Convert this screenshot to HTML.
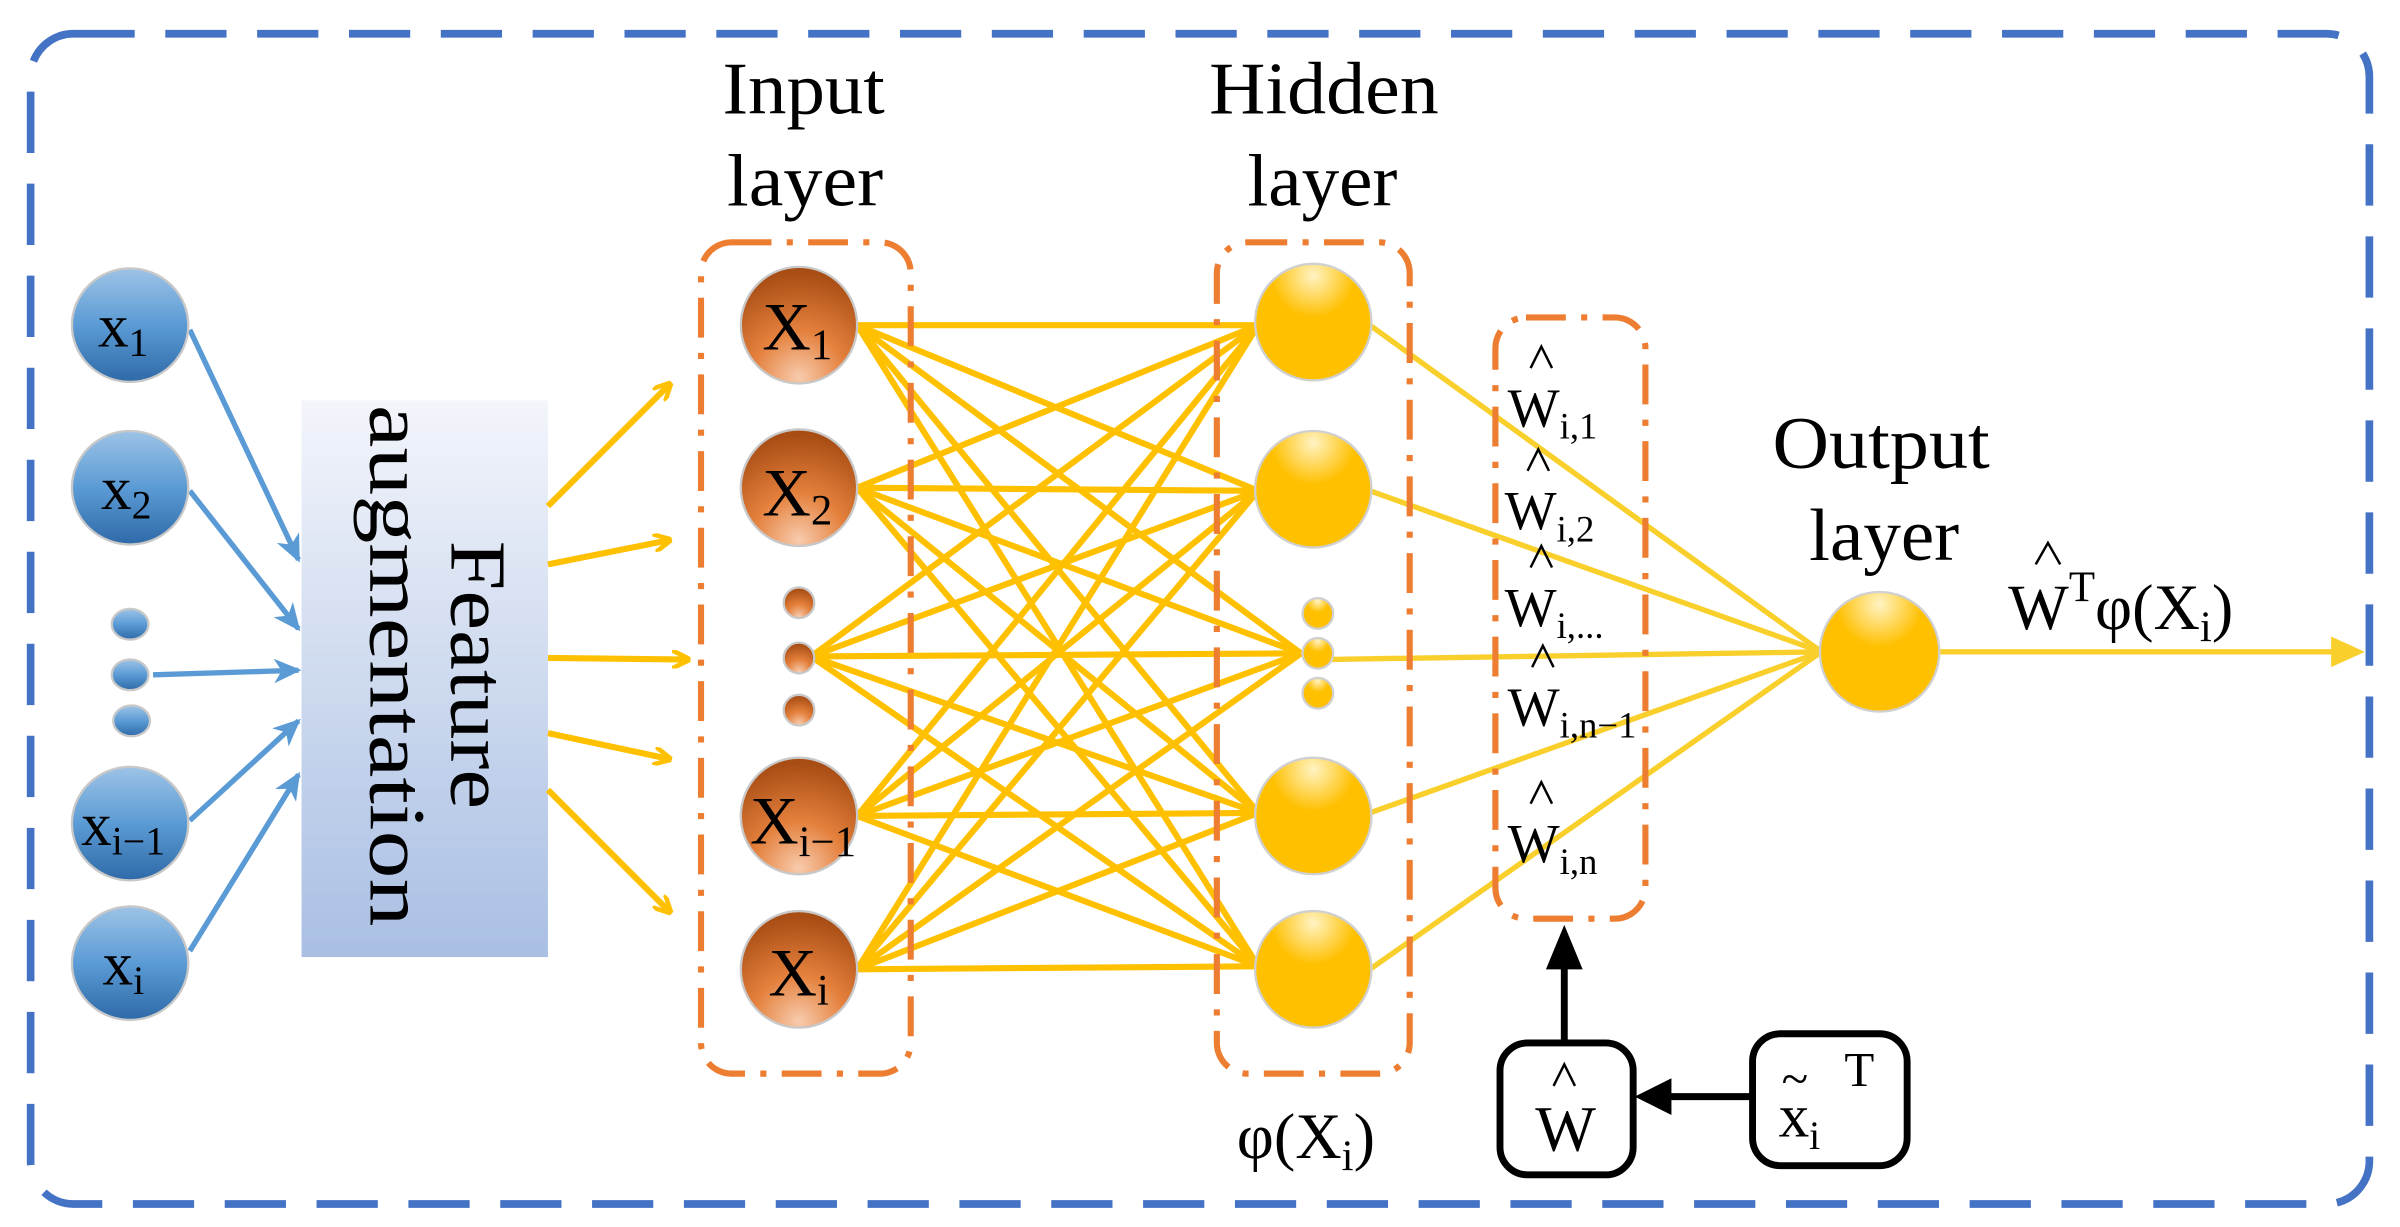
<!DOCTYPE html>
<html><head><meta charset="utf-8"><style>
html,body{margin:0;padding:0;background:#fff;}
svg{display:block;font-family:"Liberation Serif","DejaVu Serif",serif;}
svg text{font-family:"Liberation Serif","DejaVu Serif",serif;fill:#000;}
</style></head><body>
<svg width="2400" height="1227" viewBox="0 0 1568 800" preserveAspectRatio="none" xmlns="http://www.w3.org/2000/svg">
<defs>
<linearGradient id="gb" x1="0" y1="0" x2="0" y2="1"><stop offset="0" stop-color="#9dc3e6"/><stop offset="0.5" stop-color="#5b9bd5"/><stop offset="1" stop-color="#2e6aa8"/></linearGradient>
<radialGradient id="go" cx="0.5" cy="0.95" r="0.9"><stop offset="0" stop-color="#f8cbad"/><stop offset="0.45" stop-color="#e4803c"/><stop offset="1" stop-color="#a84d14"/></radialGradient>
<radialGradient id="gy" cx="0.5" cy="0.1" r="0.6"><stop offset="0" stop-color="#fff3c4"/><stop offset="0.6" stop-color="#ffc000"/><stop offset="1" stop-color="#ffc000"/></radialGradient>
<linearGradient id="gf" x1="0" y1="0" x2="0" y2="1"><stop offset="0" stop-color="#f3f5fb"/><stop offset="1" stop-color="#a9bfe3"/></linearGradient>
<marker id="ab" markerWidth="18" markerHeight="16" refX="16" refY="8" orient="auto" markerUnits="userSpaceOnUse" viewBox="0 0 18 16"><path d="M0,0 L18,8 L0,16 L5,8 Z" fill="#5b9bd5"/></marker>
<marker id="ay" markerWidth="12" markerHeight="12" refX="11" refY="6" orient="auto" markerUnits="userSpaceOnUse" viewBox="0 0 12 12"><path d="M0,0 L12,6 L0,12" fill="none" stroke="#ffc000" stroke-width="3"/></marker>
</defs>
<rect x="20" y="22" width="1528" height="763" rx="28" fill="none" stroke="#4472c4" stroke-width="5" stroke-dasharray="40 20"/>

<g stroke="#5b9bd5" stroke-width="3.5" fill="none">
<line x1="124" y1="215" x2="195" y2="365" marker-end="url(#ab)"/>
<line x1="124" y1="320" x2="195" y2="410" marker-end="url(#ab)"/>
<line x1="100" y1="440" x2="195" y2="437" marker-end="url(#ab)"/>
<line x1="124" y1="535" x2="195" y2="470" marker-end="url(#ab)"/>
<line x1="124" y1="620" x2="195" y2="505" marker-end="url(#ab)"/>
</g>

<g stroke="#c8c8c8" stroke-width="1.5" fill="url(#gb)">
<ellipse cx="85" cy="212" rx="38" ry="37"/>
<ellipse cx="85" cy="318" rx="38" ry="37"/>
<ellipse cx="85" cy="537" rx="38" ry="37"/>
<ellipse cx="85" cy="628" rx="38" ry="37"/>
<ellipse cx="85" cy="407" rx="12" ry="10"/>
<ellipse cx="85" cy="440" rx="12" ry="10"/>
<ellipse cx="86" cy="470" rx="12" ry="10"/>
</g>
<g font-size="40">
<text x="64" y="226">x<tspan font-size="26" dy="6">1</tspan></text>
<text x="66" y="332">x<tspan font-size="26" dy="6">2</tspan></text>
<text x="53" y="551">x<tspan font-size="26" dy="6">i−1</tspan></text>
<text x="67" y="642">x<tspan font-size="26" dy="6">i</tspan></text>
</g>

<rect x="197" y="261" width="161" height="363" fill="url(#gf)"/>
<g transform="translate(277,440) rotate(90)" font-size="52" text-anchor="middle">
<text x="0" y="-18" textLength="175" lengthAdjust="spacingAndGlyphs">Feature</text>
<text x="-6" y="35" textLength="340" lengthAdjust="spacingAndGlyphs">augmentation</text>
</g>

<g stroke="#ffc000" stroke-width="4" fill="none" marker-end="url(#ay)">
<line x1="358" y1="330" x2="438" y2="250"/>
<line x1="358" y1="368" x2="438" y2="352"/>
<line x1="358" y1="429" x2="450" y2="430"/>
<line x1="358" y1="478" x2="438" y2="495"/>
<line x1="358" y1="515" x2="438" y2="595"/>
</g>

<g stroke="#ffc000" stroke-width="4">
<line x1="560" y1="212" x2="822" y2="212"/><line x1="560" y1="212" x2="822" y2="320"/><line x1="560" y1="212" x2="850" y2="426"/><line x1="560" y1="212" x2="822" y2="530"/><line x1="560" y1="212" x2="822" y2="630"/>
<line x1="560" y1="318" x2="822" y2="212"/><line x1="560" y1="318" x2="822" y2="320"/><line x1="560" y1="318" x2="850" y2="426"/><line x1="560" y1="318" x2="822" y2="530"/><line x1="560" y1="318" x2="822" y2="630"/>
<line x1="530" y1="428" x2="822" y2="212"/><line x1="530" y1="428" x2="822" y2="320"/><line x1="530" y1="428" x2="850" y2="426"/><line x1="530" y1="428" x2="822" y2="530"/><line x1="530" y1="428" x2="822" y2="630"/>
<line x1="560" y1="532" x2="822" y2="212"/><line x1="560" y1="532" x2="822" y2="320"/><line x1="560" y1="532" x2="850" y2="426"/><line x1="560" y1="532" x2="822" y2="530"/><line x1="560" y1="532" x2="822" y2="630"/>
<line x1="560" y1="632" x2="822" y2="212"/><line x1="560" y1="632" x2="822" y2="320"/><line x1="560" y1="632" x2="850" y2="426"/><line x1="560" y1="632" x2="822" y2="530"/><line x1="560" y1="632" x2="822" y2="630"/>
</g>
<g stroke="#f9cf2c" stroke-width="3.5">
<line x1="895" y1="212" x2="1190" y2="425"/>
<line x1="895" y1="320" x2="1190" y2="425"/>
<line x1="865" y1="430" x2="1190" y2="425"/>
<line x1="895" y1="530" x2="1190" y2="425"/>
<line x1="895" y1="632" x2="1190" y2="425"/>
<line x1="1266" y1="425" x2="1540" y2="425"/>
</g>
<path d="M1523,415 L1545,425 L1523,435 Z" fill="#f9cf2c"/>

<g fill="none" stroke="#ed7d31" stroke-width="4" stroke-dasharray="26 10 4 10">
<rect x="458" y="158" width="137" height="542" rx="20"/>
<rect x="795" y="158" width="126" height="542" rx="20"/>
<rect x="977" y="207" width="98" height="392" rx="20"/>
</g>

<g stroke="#c8c8c8" stroke-width="1.5" fill="url(#go)">
<circle cx="522" cy="212" r="38"/>
<circle cx="522" cy="318" r="38"/>
<circle cx="522" cy="532" r="38"/>
<circle cx="522" cy="632" r="38"/>
<circle cx="522" cy="393" r="10"/>
<circle cx="522" cy="429" r="10"/>
<circle cx="522" cy="463" r="10"/>
</g>
<g font-size="44">
<text x="498" y="228">X<tspan font-size="28" dy="6">1</tspan></text>
<text x="498" y="336">X<tspan font-size="28" dy="6">2</tspan></text>
<text x="490" y="550">X<tspan font-size="28" dy="8">i−1</tspan></text>
<text x="502" y="649">X<tspan font-size="28" dy="6">i</tspan></text>
</g>

<g stroke="#d0d0d0" stroke-width="1.5" fill="url(#gy)">
<circle cx="858" cy="210" r="38"/>
<circle cx="858" cy="319" r="38"/>
<circle cx="858" cy="532" r="38"/>
<circle cx="858" cy="632" r="38"/>
<circle cx="861" cy="400" r="10"/>
<circle cx="861" cy="426" r="10"/>
<circle cx="861" cy="452" r="10"/>
<circle cx="1228" cy="425" r="39"/>
</g>

<g font-size="48" text-anchor="middle">
<text x="525" y="74" textLength="106" lengthAdjust="spacingAndGlyphs">Input</text>
<text x="526" y="134" textLength="102" lengthAdjust="spacingAndGlyphs">layer</text>
<text x="865" y="74" textLength="150" lengthAdjust="spacingAndGlyphs">Hidden</text>
<text x="864" y="134" textLength="98" lengthAdjust="spacingAndGlyphs">layer</text>
<text x="1229" y="305" textLength="142" lengthAdjust="spacingAndGlyphs">Output</text>
<text x="1231" y="365" textLength="98" lengthAdjust="spacingAndGlyphs">layer</text>
</g>
<g font-size="42">
<text x="808" y="755">φ(X<tspan font-size="28" dy="8">i</tspan><tspan dy="-8">)</tspan></text>
<text x="1312" y="410">W<tspan font-size="28" dy="-18">T</tspan><tspan dy="18">φ(X</tspan><tspan font-size="28" dy="8">i</tspan><tspan dy="-8">)</tspan></text>
</g>
<g font-size="36">
<text x="985" y="278">W<tspan font-size="24" dy="8">i,1</tspan></text>
<text x="983" y="345">W<tspan font-size="24" dy="8">i,2</tspan></text>
<text x="983" y="408">W<tspan font-size="24" dy="8">i,...</tspan></text>
<text x="985" y="473">W<tspan font-size="24" dy="8">i,n−1</tspan></text>
<text x="985" y="562">W<tspan font-size="24" dy="8">i,n</tspan></text>
</g>
<g fill="none" stroke="#000" stroke-width="1.6">
<polyline points="1000,240 1007,226 1014,240"/>
<polyline points="998,307 1005,293 1012,307"/>
<polyline points="1000,370 1007,356 1014,370"/>
<polyline points="1001,435 1008,421 1015,435"/>
<polyline points="1000,524 1007,510 1014,524"/>
<polyline points="1330,368 1338,354 1346,368"/>
<polyline points="1015,708 1022,694 1029,708"/>
</g>

<g fill="none" stroke="#000" stroke-width="4.5">
<rect x="980" y="680" width="87" height="86" rx="18"/>
<rect x="1145" y="674" width="101" height="86" rx="18"/>
<line x1="1022" y1="680" x2="1022" y2="630"/>
<line x1="1145" y1="715" x2="1090" y2="715"/>
</g>
<path d="M1022,603 L1010,632 L1034,632 Z" fill="#000"/>
<path d="M1068,715 L1092,703 L1092,727 Z" fill="#000"/>
<text x="1003" y="750" font-size="42">W</text>
<text x="1162" y="741" font-size="40">x<tspan font-size="26" dy="8">i</tspan></text>
<text x="1164" y="714" font-size="32">~</text>
<text x="1205" y="708" font-size="32">T</text>
</svg>
</body></html>
